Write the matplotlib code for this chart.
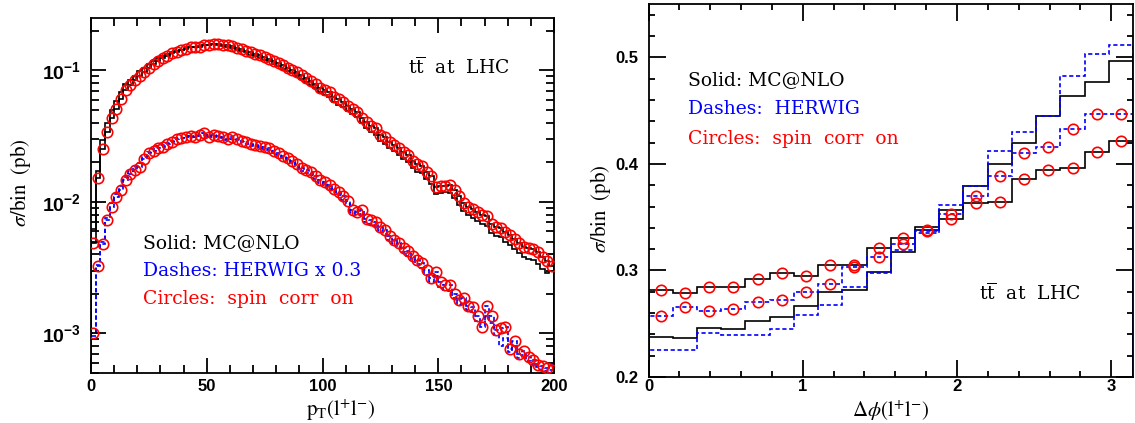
import numpy as np
import matplotlib
matplotlib.use('Agg')
import matplotlib.pyplot as plt
from matplotlib.ticker import MultipleLocator, LogLocator, NullFormatter


# pT(l+l-) spectrum, 2 GeV bins from 0 to 200 (sigma/bin in pb)
pt_mcnlo_on = [
    0.00490, 0.0151, 0.0251, 0.0339, 0.0437, 0.0513, 0.0603, 0.0708, 0.0776, 0.0841,
    0.0912, 0.0977, 0.1047, 0.1122, 0.1189, 0.1245, 0.1288, 0.1349, 0.1380, 0.1419,
    0.1462, 0.1496, 0.1507, 0.1514, 0.1549, 0.1567, 0.1585, 0.1585, 0.1567, 0.1549,
    0.1524, 0.1479, 0.1445, 0.1413, 0.1374, 0.1334, 0.1300, 0.1259, 0.1230, 0.1189,
    0.1148, 0.1091, 0.1047, 0.1012, 0.0966, 0.0923, 0.0871, 0.0832, 0.0794, 0.0733,
    0.0708, 0.0684, 0.0631, 0.0603, 0.0575, 0.0537, 0.0513, 0.0484, 0.0437, 0.0407,
    0.0380, 0.0363, 0.0324, 0.0309, 0.0288, 0.0272, 0.0257, 0.0240, 0.0226, 0.0204,
    0.0193, 0.0188, 0.0170, 0.0158, 0.0129, 0.0132, 0.0133, 0.0135, 0.0123, 0.0110,
    0.00977, 0.00912, 0.00881, 0.00832, 0.00794, 0.00776, 0.00676, 0.00646, 0.00631, 0.00589,
    0.00556, 0.00525, 0.00490, 0.00457, 0.00447, 0.00437, 0.00417, 0.00380, 0.00355, 0.00327,
]
pt_mcnlo_off = [
    0.0062, 0.0171, 0.0296, 0.0398, 0.0501, 0.0582, 0.0680, 0.0786, 0.0852, 0.0915,
    0.0985, 0.1050, 0.1110, 0.1180, 0.1240, 0.1290, 0.1330, 0.1380, 0.1410, 0.1440,
    0.1480, 0.1510, 0.1520, 0.1530, 0.1560, 0.1570, 0.1580, 0.1560, 0.1540, 0.1510,
    0.1480, 0.1440, 0.1400, 0.1370, 0.1320, 0.1280, 0.1250, 0.1200, 0.1170, 0.1120,
    0.1080, 0.1030, 0.0985, 0.0950, 0.0905, 0.0860, 0.0810, 0.0770, 0.0735, 0.0680,
    0.0655, 0.0630, 0.0580, 0.0550, 0.0525, 0.0490, 0.0465, 0.0440, 0.0395, 0.0368,
    0.0342, 0.0325, 0.0292, 0.0276, 0.0258, 0.0242, 0.0228, 0.0212, 0.0200, 0.0180,
    0.0170, 0.0166, 0.0149, 0.0138, 0.0114, 0.0116, 0.0118, 0.0116, 0.0107, 0.0095,
    0.0085, 0.0079, 0.0076, 0.0071, 0.0068, 0.0066, 0.0058, 0.0055, 0.0054, 0.0050,
    0.0047, 0.0044, 0.0041, 0.0038, 0.0037, 0.0036, 0.0034, 0.0031, 0.0029, 0.0030,
]
pt_herwig_on = [
    0.00100, 0.00324, 0.00479, 0.00724, 0.00912, 0.01084, 0.01230, 0.01462, 0.01622, 0.01758,
    0.01841, 0.02138, 0.02344, 0.02455, 0.02570, 0.02630, 0.02754, 0.02851, 0.03020, 0.03055,
    0.03126, 0.03162, 0.03090, 0.03236, 0.03334, 0.03126, 0.03236, 0.03162, 0.03090, 0.02985,
    0.03090, 0.03020, 0.02917, 0.02851, 0.02754, 0.02723, 0.02661, 0.02630, 0.02570, 0.02427,
    0.02371, 0.02239, 0.02163, 0.02042, 0.01928, 0.01799, 0.01738, 0.01679, 0.01585, 0.01479,
    0.01413, 0.01334, 0.01259, 0.01189, 0.01109, 0.01023, 0.00871, 0.00832, 0.00861, 0.00741,
    0.00724, 0.00708, 0.00646, 0.00617, 0.00550, 0.00513, 0.00490, 0.00447, 0.00422, 0.00389,
    0.00363, 0.00343, 0.00302, 0.00263, 0.00295, 0.00245, 0.00232, 0.00232, 0.00200, 0.00178,
    0.00186, 0.00162, 0.00158, 0.00135, 0.00111, 0.00162, 0.00135, 0.00107, 0.00110, 0.00111,
    0.000759, 0.000871, 0.000692, 0.000741, 0.000661, 0.000631, 0.000575, 0.000562, 0.000550, 0.000525,
]
pt_herwig_off = [
    0.00095, 0.00330, 0.00500, 0.00760, 0.00980, 0.01150, 0.01320, 0.01560, 0.01720, 0.01860,
    0.01960, 0.02200, 0.02400, 0.02520, 0.02640, 0.02700, 0.02820, 0.02900, 0.03050, 0.03080,
    0.03140, 0.03150, 0.03120, 0.03200, 0.03250, 0.03120, 0.03180, 0.03120, 0.03050, 0.02950,
    0.03000, 0.02950, 0.02850, 0.02780, 0.02680, 0.02650, 0.02580, 0.02540, 0.02480, 0.02350,
    0.02290, 0.02160, 0.02080, 0.01960, 0.01850, 0.01720, 0.01660, 0.01600, 0.01500, 0.01400,
    0.01340, 0.01260, 0.01180, 0.01120, 0.01040, 0.00960, 0.00830, 0.00790, 0.00810, 0.00700,
    0.00680, 0.00660, 0.00600, 0.00575, 0.00510, 0.00478, 0.00455, 0.00415, 0.00390, 0.00360,
    0.00335, 0.00315, 0.00280, 0.00245, 0.00272, 0.00225, 0.00215, 0.00212, 0.00185, 0.00165,
    0.00170, 0.00150, 0.00145, 0.00125, 0.00118, 0.00135, 0.00120, 0.00098, 0.00080, 0.00092,
    0.00072, 0.00080, 0.00065, 0.00068, 0.00062, 0.00059, 0.00056, 0.00053, 0.00052, 0.00058,
]

# delta phi(l+l-), 20 bins from 0 to pi
dphi_mcnlo_on = [0.2815, 0.279, 0.284, 0.2843, 0.2924, 0.298, 0.295, 0.305, 0.305, 0.321,
                 0.330, 0.338, 0.348, 0.363, 0.364, 0.3854, 0.3938, 0.3963, 0.4116, 0.4213]
dphi_herwig_on = [0.2568, 0.2653, 0.2624, 0.264, 0.270, 0.2724, 0.280, 0.287, 0.3035, 0.313,
                  0.3252, 0.337, 0.353, 0.370, 0.3885, 0.4104, 0.4163, 0.4328, 0.4466, 0.4466]
dphi_mcnlo_off = [0.238, 0.2368, 0.2456, 0.2446, 0.2524, 0.2565, 0.267, 0.280, 0.2815, 0.2986,
                  0.3173, 0.341, 0.3564, 0.379, 0.400, 0.4197, 0.4453, 0.4634, 0.4772, 0.4968]
dphi_herwig_off = [0.225, 0.225, 0.2415, 0.239, 0.2396, 0.2446, 0.2585, 0.268, 0.2845, 0.298,
                   0.319, 0.335, 0.361, 0.379, 0.4125, 0.4303, 0.4447, 0.4821, 0.503, 0.5115]

plt.rcParams['font.family'] = ['DejaVu Serif']
plt.rcParams['mathtext.fontset'] = 'custom'
plt.rcParams['mathtext.rm'] = 'Liberation Sans'
plt.rcParams['mathtext.bf'] = 'Liberation Sans:bold'
plt.rcParams['xtick.direction'] = 'in'
plt.rcParams['ytick.direction'] = 'in'

BLUE = '#0000ff'
RED = '#ff0000'
DASH = (0, (2.5, 1.6))
TXT = dict(family='DejaVu Serif', fontsize=13.5, math_fontfamily='dejavuserif')
TICKF = dict(family='Liberation Sans', fontweight='bold', fontsize=12)
LAB = dict(fontsize=15, math_fontfamily='stix')


def draw_hist(ax, vals, edges, base, dashed, color, circles):
    ax.stairs(vals, edges, baseline=base, color=color, lw=1.2,
              linestyle=DASH if dashed else '-')
    if circles:
        cen = 0.5 * (edges[:-1] + edges[1:])
        ax.plot(cen, vals, 'o', ls='none', mfc='none', mec=RED, ms=7.5, mew=1.2, zorder=5)


def style_axes(ax, major_len, minor_len, xpad):
    for sp in ax.spines.values():
        sp.set_linewidth(1.3)
    ax.tick_params(axis='both', which='both', direction='in', top=True, right=True,
                   width=1.3)
    ax.tick_params(axis='y', which='major', pad=7)
    ax.tick_params(axis='x', which='major', pad=xpad)
    ax.tick_params(axis='both', which='major', length=major_len)
    ax.tick_params(axis='both', which='minor', length=minor_len)


def place_labels(ax, xpos, ypos):
    ax.xaxis.set_label_coords(*xpos)
    ax.xaxis.label.set_verticalalignment('center')
    ax.yaxis.set_label_coords(*ypos)
    ax.yaxis.label.set_verticalalignment('center')
    ax.yaxis.label.set_horizontalalignment('center')


fig = plt.figure(figsize=(11.35, 4.23), dpi=100)

# left panel: pT spectrum
ax1 = fig.add_axes([0.0802, 0.1182, 0.408, 0.839])
pt_edges = np.linspace(0, 200, len(pt_mcnlo_on) + 1)
draw_hist(ax1, pt_mcnlo_off, pt_edges, 1e-6, False, 'k', False)
draw_hist(ax1, pt_mcnlo_on, pt_edges, 1e-6, False, 'k', True)
draw_hist(ax1, pt_herwig_off, pt_edges, 1e-6, True, BLUE, False)
draw_hist(ax1, pt_herwig_on, pt_edges, 1e-6, True, BLUE, True)
ax1.set_yscale('log')
ax1.set_xlim(0, 200)
ax1.set_ylim(5e-4, 0.25)
ax1.set_xticks([0, 50, 100, 150, 200], ['0', '50', '100', '150', '200'], **TICKF)
ax1.set_yticks([1e-3, 1e-2, 1e-1],
               [r'$\mathbf{10^{-3}}$', r'$\mathbf{10^{-2}}$', r'$\mathbf{10^{-1}}$'], fontsize=14)
ax1.xaxis.set_minor_locator(MultipleLocator(10))
ax1.yaxis.set_minor_locator(LogLocator(base=10, subs=range(2, 10)))
ax1.yaxis.set_minor_formatter(NullFormatter())
style_axes(ax1, 11, 5.5, 4)
ax1.set_xlabel(r'$\mathrm{p_T(l^{+}l^{-})}$', **LAB)
ax1.set_ylabel(r'$\sigma\mathrm{/bin\ \ (pb)}$', **LAB)
place_labels(ax1, (0.54, -0.104), (-0.153, 0.535))
ax1.text(0.685, 0.862, r'$\mathrm{t\overline{t}}$  at  LHC', transform=ax1.transAxes,
         va='center', ha='left', color='k', **TXT)
ax1.text(0.112, 0.367, 'Solid: MC@NLO', transform=ax1.transAxes,
         va='center', ha='left', color='k', **TXT)
ax1.text(0.112, 0.287, 'Dashes: HERWIG x 0.3', transform=ax1.transAxes,
         va='center', ha='left', color=BLUE, **TXT)
ax1.text(0.112, 0.208, 'Circles:  spin  corr  on', transform=ax1.transAxes,
         va='center', ha='left', color=RED, **TXT)

# right panel: delta phi
ax2 = fig.add_axes([0.5714, 0.1087, 0.4269, 0.8818])
dphi_edges = np.linspace(0, np.pi, len(dphi_mcnlo_on) + 1)
draw_hist(ax2, dphi_mcnlo_off, dphi_edges, 0, False, 'k', False)
draw_hist(ax2, dphi_mcnlo_on, dphi_edges, 0, False, 'k', True)
draw_hist(ax2, dphi_herwig_off, dphi_edges, 0, True, BLUE, False)
draw_hist(ax2, dphi_herwig_on, dphi_edges, 0, True, BLUE, True)
ax2.set_xlim(0, np.pi)
ax2.set_ylim(0.2, 0.55)
ax2.set_xticks([0, 1, 2, 3], ['0', '1', '2', '3'], **TICKF)
ax2.set_yticks([0.2, 0.3, 0.4, 0.5], ['0.2', '0.3', '0.4', '0.5'], **TICKF)
ax2.xaxis.set_minor_locator(MultipleLocator(0.2))
ax2.yaxis.set_minor_locator(MultipleLocator(0.02))
style_axes(ax2, 12, 4.5, 1.5)
ax2.set_xlabel(r'$\Delta\phi\mathrm{(l^{+}l^{-})}$', **LAB)
ax2.set_ylabel(r'$\sigma\mathrm{/bin\ \ (pb)}$', **LAB)
place_labels(ax2, (0.5, -0.09), (-0.100, 0.45))
ax2.text(0.082, 0.796, 'Solid: MC@NLO', transform=ax2.transAxes,
         va='center', ha='left', color='k', **TXT)
ax2.text(0.082, 0.718, 'Dashes:  HERWIG', transform=ax2.transAxes,
         va='center', ha='left', color=BLUE, **TXT)
ax2.text(0.082, 0.637, 'Circles:  spin  corr  on', transform=ax2.transAxes,
         va='center', ha='left', color=RED, **TXT)
ax2.text(0.681, 0.224, r'$\mathrm{t\overline{t}}$  at  LHC', transform=ax2.transAxes,
         va='center', ha='left', color='k', **TXT)

fig.savefig('out.png', dpi=100)
